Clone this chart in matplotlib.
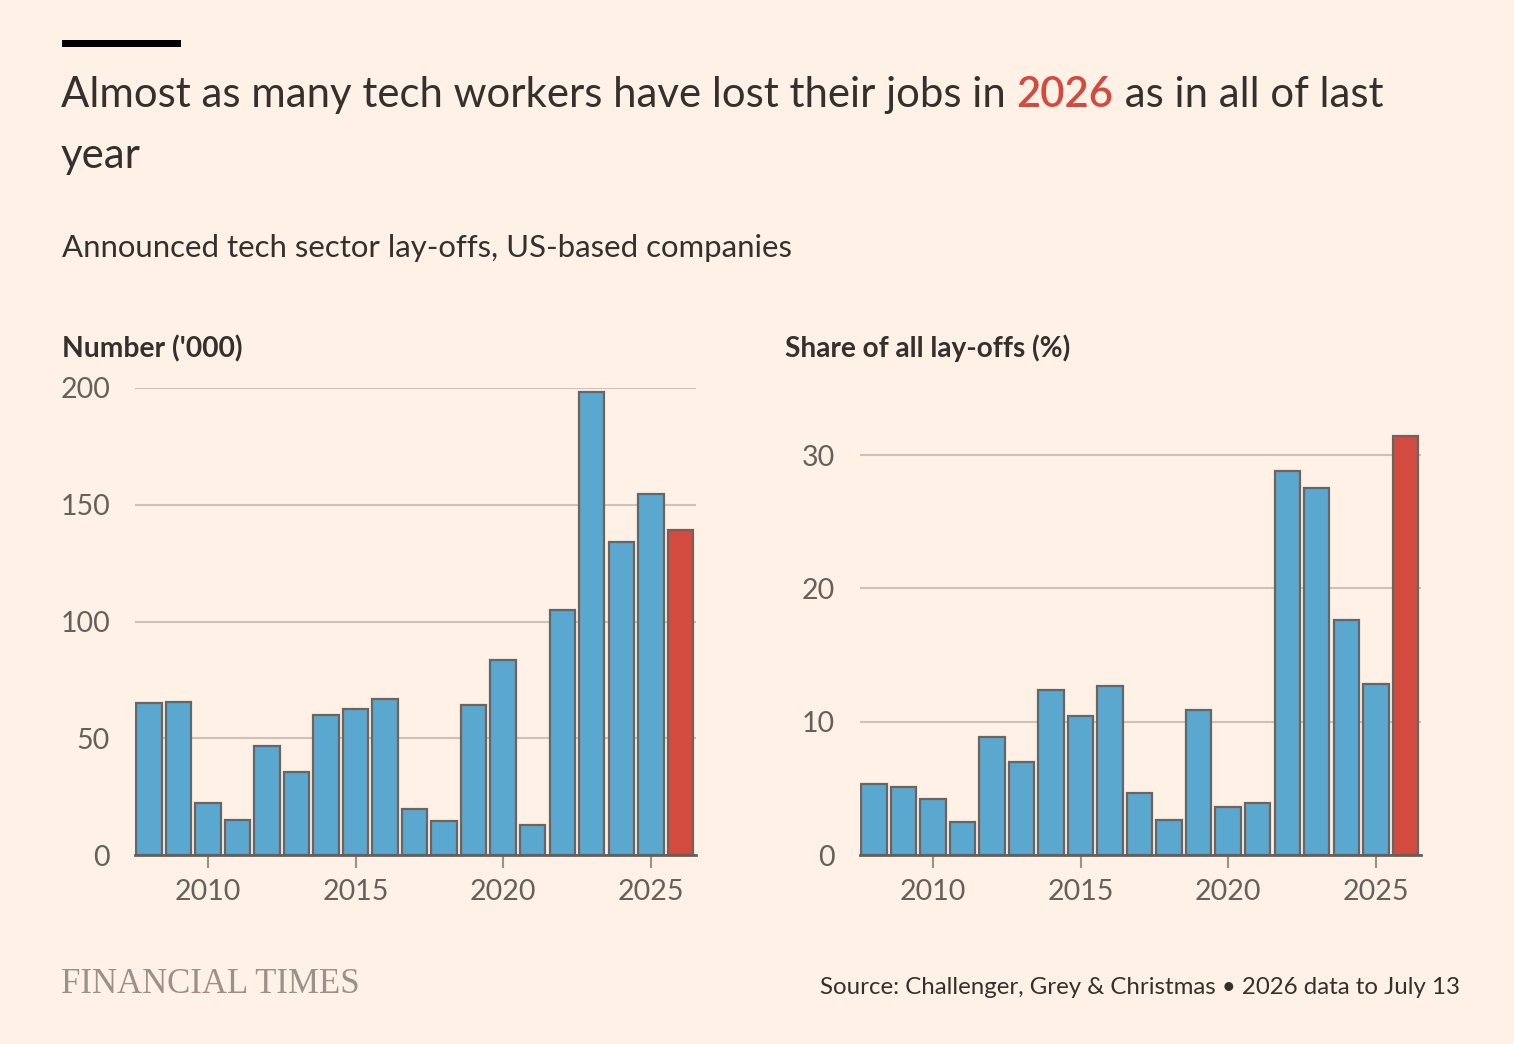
import matplotlib
matplotlib.use("Agg")
import matplotlib.pyplot as plt
from matplotlib.patches import Rectangle

years = list(range(2008, 2027))
number_k = [65.1, 65.5, 22.3, 15.0, 46.7, 35.5, 60.0, 62.5, 66.8, 19.7, 14.6,
            64.2, 83.5, 12.8, 104.9, 198.3, 134.0, 154.6, 139.2]
share_pct = [5.3, 5.1, 4.2, 2.5, 8.85, 7.0, 12.4, 10.4, 12.7, 4.65, 2.6,
             10.9, 3.6, 3.9, 28.8, 27.5, 17.6, 12.8, 31.4]
highlight_year = 2026
left_yticks = [0, 50, 100, 150, 200]
right_yticks = [0, 10, 20, 30]
xticks = [2010, 2015, 2020, 2025]

BG = "#fff1e5"
BLUE = "#5aa8d0"
RED = "#d34b3e"
EDGE = "#6b6461"
GRID = "#cdc2b8"
TXT = "#33302e"
TICK = "#66605c"
FONT = "Lato"

W, H = 1514, 1044
fig = plt.figure(figsize=(W / 100, H / 100), dpi=100, facecolor=BG)


def fx(px):
    return px / W


def fy(py):
    return 1 - py / H


# top black bar
fig.add_artist(Rectangle((fx(62), fy(47)), fx(181) - fx(62), 7 / H,
                         transform=fig.transFigure, color="black", lw=0))

TS = 30.2
# title with coloured year
t1 = fig.text(fx(61), fy(114), "Almost as many tech workers have lost their jobs in ",
              fontsize=TS, color=TXT, family=FONT, va="bottom")
t2 = fig.text(0, 0, "2026", fontsize=TS, color=RED, family=FONT, va="bottom",
              fontweight="semibold")
t3 = fig.text(0, 0, " as in all of last", fontsize=TS, color=TXT, family=FONT,
              va="bottom")
fig.canvas.draw()
r = fig.canvas.get_renderer()
bb1 = t1.get_window_extent(r)
t2.set_position((bb1.x1 / W, bb1.y0 / H))
bb2 = t2.get_window_extent(r)
t3.set_position((bb2.x1 / W, bb2.y0 / H))
fig.text(fx(61), fy(175), "year", fontsize=TS, color=TXT, family=FONT, va="bottom")

fig.text(fx(62), fy(262), "Announced tech sector lay-offs, US-based companies",
         fontsize=22.4, color=TXT, family=FONT, va="bottom")

fig.text(fx(62), fy(362), "Number ('000)", fontsize=20.3, color=TXT, family=FONT,
         fontweight="bold", va="bottom")
fig.text(fx(785), fy(362), "Share of all lay-offs (%)", fontsize=20.2, color=TXT,
         family=FONT, fontweight="bold", va="bottom")

fig.text(fx(61), fy(1001), "FINANCIAL TIMES", fontsize=25, color="#9a918a",
         family="Liberation Serif", va="bottom")
fig.text(fx(1460), fy(998), "Source: Challenger, Grey & Christmas \u2022 2026 data to July 13",
         fontsize=17.3, color=TXT, family=FONT, va="bottom", ha="right")

colors = [RED if y == highlight_year else BLUE for y in years]


def style(ax, vals, yticks, ylim):
    ax.set_facecolor(BG)
    ax.bar(years, vals, width=0.86, color=colors, edgecolor=EDGE, linewidth=1.6,
           zorder=3)
    ax.set_xlim(2007.53, 2026.53)
    ax.set_ylim(*ylim)
    ax.set_yticks(yticks)
    ax.set_xticks(xticks)
    for s in ["top", "right", "left"]:
        ax.spines[s].set_visible(False)
    ax.spines["bottom"].set_color(TICK)
    ax.spines["bottom"].set_linewidth(2)
    ax.spines["bottom"].set_zorder(4)
    ax.grid(axis="y", color=GRID, linewidth=1.5, zorder=0)
    ax.tick_params(axis="y", length=0, pad=18, labelsize=20.5, labelcolor=TICK)
    ax.tick_params(axis="x", length=9, width=1.5, color="#9a918a", pad=8,
                   labelsize=20.5, labelcolor=TICK)
    for lab in ax.get_xticklabels() + ax.get_yticklabels():
        lab.set_family(FONT)


ax1 = fig.add_axes([fx(135), fy(855), fx(696) - fx(135), (855 - 388) / H])
style(ax1, number_k, left_yticks, (0, 200))
ax2 = fig.add_axes([fx(860), fy(855), fx(1421) - fx(860), (855 - 388) / H])
style(ax2, share_pct, right_yticks, (0, 35.03))

fig.savefig("out.png", dpi=100, facecolor=BG)
